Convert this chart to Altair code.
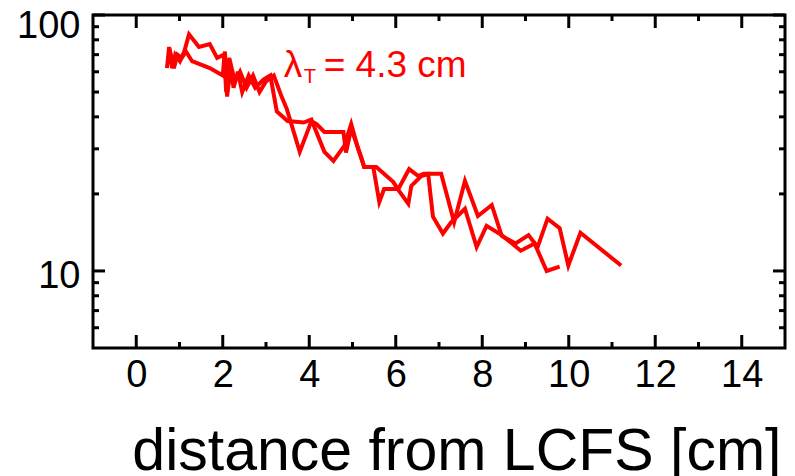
import altair as alt
import pandas as pd

# ---- data ----
xa = [0.71, 0.76, 0.83, 0.90, 1.01, 1.11, 1.22, 1.45, 1.70, 1.87, 2.03, 2.08, 2.15, 2.28, 2.40,
      2.55, 2.70, 2.85, 3.00, 3.18, 3.36, 3.48, 3.78, 4.05, 4.17, 4.35, 4.79, 4.85, 4.97, 5.20,
      5.27, 5.48, 5.62, 5.73, 6.06, 6.31, 6.52, 6.65, 7.05, 7.35, 7.60, 7.90, 8.22, 8.45, 8.77,
      9.07, 9.28, 9.51, 9.79, 9.99, 10.27, 11.21]
ya = [62, 75, 62, 70, 66, 72, 84, 75, 77, 68, 70, 50, 68, 55, 60,
      52, 58, 50, 55, 58, 48, 43, 29.2, 38.5, 37.5, 34.9, 34.9, 29, 36, 27.9,
      25.5, 25.5, 18.6, 20.9, 20.9, 25, 23.5, 24, 24, 15.5, 22.5, 16.4, 18.1, 13.7, 12.8,
      13.8, 12.4, 16, 14.7, 10.5, 14.1, 10.5]

xb = [0.74, 0.80, 0.87, 0.95, 1.05, 1.15, 1.29, 1.70, 2.00, 2.05, 2.10, 2.18, 2.25, 2.35, 2.45,
      2.60, 2.75, 2.95, 3.10, 3.25, 3.50, 3.87, 4.05, 4.35, 4.56, 4.81, 4.97, 5.13, 5.27, 5.55,
      5.94, 6.08, 6.29, 6.36, 6.59, 6.75, 6.86, 7.09, 7.28, 7.60, 7.87, 8.10, 8.45, 8.89, 9.21,
      9.49, 9.79]
yb = [66, 70, 62, 70, 68, 72, 66, 62, 58, 72, 48, 62, 52, 60, 50,
      58, 52, 56, 58, 42, 38.5, 38, 39, 29.2, 26.9, 30.8, 37.5, 30, 25.5, 25.5,
      22.3, 20.5, 18.3, 21.5, 23.5, 23.9, 16.3, 14.0, 15.5, 17.5, 12.4, 15.0, 13.8, 12.0, 12.8,
      10.0, 10.4]

x_major = [0, 2, 4, 6, 8, 10, 12, 14]
x_minor = [1, 3, 5, 7, 9, 11, 13]
y_major = [10, 100]
y_minor = [6, 7, 8, 9, 20, 30, 40, 50, 60, 70, 80, 90]

ann_x = [3.41]
ann_y = [57.3]
ann_main = ["λ"]
ann_sub = ["T"]
ann_rest = ["= 4.3 cm"]

# ---- build ----
W, H = 692, 333
FONT = "Liberation Sans"

df = pd.DataFrame({
    "x": xa + xb,
    "y": ya + yb,
    "series": ["a"] * len(xa) + ["b"] * len(xb),
    "idx": list(range(len(xa))) + list(range(len(xb))),
})

xscale = alt.Scale(domain=[-1, 15], nice=False, zero=False)
yscale = alt.Scale(type="log", domain=[5, 100], nice=False)

xaxis = alt.Axis(values=x_major, tickSize=0, domain=False, grid=False,
                 labelFont=FONT, labelFontSize=38, labelColor="black", labelPadding=8,
                 title="distance from LCFS [cm]", titleFont=FONT, titleFontSize=59,
                 titleFontWeight="normal", titleColor="black", titleAlign="right",
                 titleX=688, titleY=121, titleBaseline="alphabetic")
yaxis = alt.Axis(values=y_major, tickSize=0, domain=False, grid=False,
                 labelFont=FONT, labelFontSize=38, labelColor="black", labelPadding=13,
                 labelOffset=alt.ExprRef("datum.value == 100 ? 11 : 6"),
                 title=None, format="d")

lines = alt.Chart(df).mark_line(color="#ff0000", strokeWidth=4).encode(
    x=alt.X("x:Q", scale=xscale, axis=xaxis),
    y=alt.Y("y:Q", scale=yscale, axis=yaxis),
    detail="series:N",
    order="idx:Q",
)

def xticks(vals, length):
    d = pd.DataFrame({"x": vals})
    bottom = alt.Chart(d).mark_rule(color="black", strokeWidth=3).encode(
        x=alt.X("x:Q", scale=xscale), y=alt.value(H), y2=alt.value(H - length))
    top = alt.Chart(d).mark_rule(color="black", strokeWidth=3).encode(
        x=alt.X("x:Q", scale=xscale), y=alt.value(0), y2=alt.value(length))
    return [bottom, top]

def yticks(vals, length):
    d = pd.DataFrame({"y": vals})
    left = alt.Chart(d).mark_rule(color="black", strokeWidth=3).encode(
        y=alt.Y("y:Q", scale=yscale), x=alt.value(0), x2=alt.value(length))
    right = alt.Chart(d).mark_rule(color="black", strokeWidth=3).encode(
        y=alt.Y("y:Q", scale=yscale), x=alt.value(W), x2=alt.value(W - length))
    return [left, right]

ann_df = pd.DataFrame({"x": ann_x, "y": ann_y, "m": ann_main, "s": ann_sub, "r": ann_rest})
ann1 = alt.Chart(ann_df).mark_text(align="left", baseline="alphabetic", font=FONT,
                                   fontSize=37, color="#ff0000").encode(
    x=alt.X("x:Q", scale=xscale), y=alt.Y("y:Q", scale=yscale), text="m:N")
ann2 = alt.Chart(ann_df).mark_text(align="left", baseline="alphabetic", font=FONT,
                                   fontSize=20, color="#ff0000", dx=20, dy=6).encode(
    x=alt.X("x:Q", scale=xscale), y=alt.Y("y:Q", scale=yscale), text="s:N")
ann3 = alt.Chart(ann_df).mark_text(align="left", baseline="alphabetic", font=FONT,
                                   fontSize=37, color="#ff0000", dx=40).encode(
    x=alt.X("x:Q", scale=xscale), y=alt.Y("y:Q", scale=yscale), text="r:N")

layers = [lines] + xticks(x_major, 13) + xticks(x_minor, 6) + yticks(y_major, 12) + \
    yticks(y_minor, 6) + [ann1, ann2, ann3]

chart = alt.layer(*layers).properties(
    width=W, height=H,
    autosize=alt.AutoSizeParams(type="none"),
    padding={"left": 93, "top": 15, "right": 10, "bottom": 128},
    background="white",
).configure_view(
    stroke="black", strokeWidth=3
).configure_axis(
    labelFont=FONT, labelFontSize=38, labelColor="black"
)

chart.save("out.html", embed_options={"renderer": "svg", "actions": False})
